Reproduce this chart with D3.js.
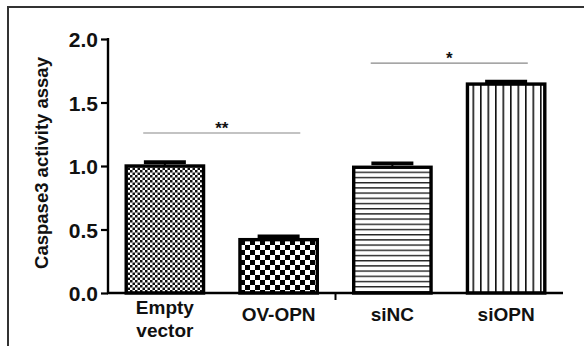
<!DOCTYPE html>
<html>
<head>
<meta charset="utf-8">
<script src="https://cdn.jsdelivr.net/npm/d3@7"></script>
<style>
  body { margin: 0; background: #fff; }
  svg { display: block; font-family: "Liberation Sans", Arial, sans-serif; font-weight: bold; }
</style>
</head>
<body>
<div id="chart"></div>
<script>
// data
const groups = ["Empty vector", "OV-OPN", "siNC", "siOPN"];
const values = [1.0, 0.42, 0.99, 1.645];
const errors = [0.03, 0.025, 0.03, 0.02];
const patterns = ["fineCheck", "bigCheck", "hLines", "vLines"];
const yTicks = [0.0, 0.5, 1.0, 1.5, 2.0];
const sigPairs = [
    { from: 0, to: 1, label: "**", y: 1.26 },
    { from: 2, to: 3, label: "*", y: 1.81 }
];

const width = 584, height = 346;
const margin = { left: 108, right: 21, top: 39, bottom: 53 };

const svg = d3.select("#chart")
    .append("svg")
    .attr("width", width)
    .attr("height", height);

// outer frame (runs off the right and bottom)
svg.append("rect")
    .attr("x", 8).attr("y", 7)
    .attr("width", 600).attr("height", 360)
    .attr("fill", "none")
    .attr("stroke", "#333")
    .attr("stroke-width", 2);

const defs = svg.append("defs");

// fine checkerboard
let p = defs.append("pattern").attr("id", "fineCheck")
    .attr("patternUnits", "userSpaceOnUse").attr("width", 5).attr("height", 5);
p.append("rect").attr("width", 5).attr("height", 5).attr("fill", "#fff");
p.append("rect").attr("width", 2.5).attr("height", 2.5).attr("fill", "#111");
p.append("rect").attr("x", 2.5).attr("y", 2.5).attr("width", 2.5).attr("height", 2.5).attr("fill", "#111");

// coarse checkerboard
p = defs.append("pattern").attr("id", "bigCheck")
    .attr("patternUnits", "userSpaceOnUse").attr("width", 10).attr("height", 10);
p.append("rect").attr("width", 10).attr("height", 10).attr("fill", "#fff");
p.append("rect").attr("width", 5).attr("height", 5).attr("fill", "#000");
p.append("rect").attr("x", 5).attr("y", 5).attr("width", 5).attr("height", 5).attr("fill", "#000");

// horizontal stripes
p = defs.append("pattern").attr("id", "hLines")
    .attr("patternUnits", "userSpaceOnUse").attr("width", 10).attr("height", 5.2);
p.append("rect").attr("width", 10).attr("height", 5.2).attr("fill", "#fff");
p.append("rect").attr("y", 0).attr("width", 10).attr("height", 1.4).attr("fill", "#222");

// vertical stripes
p = defs.append("pattern").attr("id", "vLines")
    .attr("patternUnits", "userSpaceOnUse").attr("width", 7.5).attr("height", 10);
p.append("rect").attr("width", 7.5).attr("height", 10).attr("fill", "#fff");
p.append("rect").attr("x", 0).attr("width", 1.6).attr("height", 10).attr("fill", "#111");

const x = d3.scaleBand()
    .domain(groups)
    .range([margin.left, width - margin.right])
    .paddingInner(0.32)
    .paddingOuter(0.16);

const y = d3.scaleLinear()
    .domain([0, 2])
    .range([height - margin.bottom, margin.top]);

// bars
svg.selectAll("rect.bar")
    .data(groups)
    .enter()
    .append("rect")
    .attr("class", "bar")
    .attr("x", d => x(d))
    .attr("y", (d, i) => y(values[i]))
    .attr("width", x.bandwidth())
    .attr("height", (d, i) => y(0) - y(values[i]))
    .attr("fill", (d, i) => `url(#${patterns[i]})`)
    .attr("stroke", "#000")
    .attr("stroke-width", 3.4);

// error bars (only the upper cap shows)
const capW = 42;
groups.forEach((g, i) => {
    const cx = x(g) + x.bandwidth() / 2;
    svg.append("line")
        .attr("x1", cx).attr("x2", cx)
        .attr("y1", y(values[i])).attr("y2", y(values[i] + errors[i]))
        .attr("stroke", "#000").attr("stroke-width", 2);
    svg.append("line")
        .attr("x1", cx - capW / 2).attr("x2", cx + capW / 2)
        .attr("y1", y(values[i] + errors[i])).attr("y2", y(values[i] + errors[i]))
        .attr("stroke", "#000").attr("stroke-width", 3.8);
});

// y axis
const yAxis = svg.append("g")
    .attr("transform", `translate(${margin.left},0)`)
    .call(d3.axisLeft(y).tickValues(yTicks).tickFormat(d3.format(".1f")).tickSize(7).tickSizeOuter(0));
yAxis.select(".domain").attr("stroke-width", 2.4).attr("d", `M0,${y(0)}V${y(2) - 1}`);
yAxis.selectAll(".tick line").attr("stroke-width", 2.2);
yAxis.selectAll(".tick text")
    .attr("x", -10)
    .attr("dy", "0.36em")
    .style("font-size", "21px")
    .style("font-weight", "bold")
    .style("font-family", "'Liberation Sans', Arial, sans-serif")
    .attr("fill", "#111");

// x axis line
svg.append("line")
    .attr("x1", margin.left - 1).attr("x2", width - margin.right)
    .attr("y1", y(0)).attr("y2", y(0))
    .attr("stroke", "#000").attr("stroke-width", 2.4);

// separator tick between the two experiments
const sepX = (x(groups[1]) + x.bandwidth() + x(groups[2])) / 2;
svg.append("line")
    .attr("x1", sepX).attr("x2", sepX)
    .attr("y1", y(0)).attr("y2", y(0) + 7)
    .attr("stroke", "#000").attr("stroke-width", 2);

// x labels
const xLab = svg.selectAll("text.xlab")
    .data(groups)
    .enter()
    .append("text")
    .attr("class", "xlab")
    .attr("text-anchor", "middle")
    .attr("fill", "#111")
    .style("font-size", "19px");
xLab.each(function (d) {
    const words = d.split(" ");
    const cx = x(d) + x.bandwidth() / 2;
    const t = d3.select(this);
    if (words.length === 1) {
        t.append("tspan").attr("x", cx).attr("y", 321).text(d);
    } else {
        words.forEach((w, k) => {
            t.append("tspan").attr("x", cx).attr("y", 314 + k * 23).text(w);
        });
    }
});

// y title
svg.append("text")
    .attr("transform", `translate(48,${163}) rotate(-90)`)
    .attr("text-anchor", "middle")
    .attr("fill", "#111")
    .style("font-size", "18.5px")
    .text("Caspase3 activity assay");

// significance lines
sigPairs.forEach(s => {
    const x1 = x(groups[s.from]) + x.bandwidth() * 0.22;
    const x2 = x(groups[s.to]) + x.bandwidth() * 0.78;
    svg.append("line")
        .attr("x1", x1).attr("x2", x2)
        .attr("y1", y(s.y)).attr("y2", y(s.y))
        .attr("stroke", "#888").attr("stroke-width", 1.2);
    svg.append("text")
        .attr("x", (x1 + x2) / 2)
        .attr("y", y(s.y) + 1)
        .attr("text-anchor", "middle")
        .attr("fill", "#111")
        .style("font-size", "17px")
        .text(s.label);
});
</script>
</body>
</html>
